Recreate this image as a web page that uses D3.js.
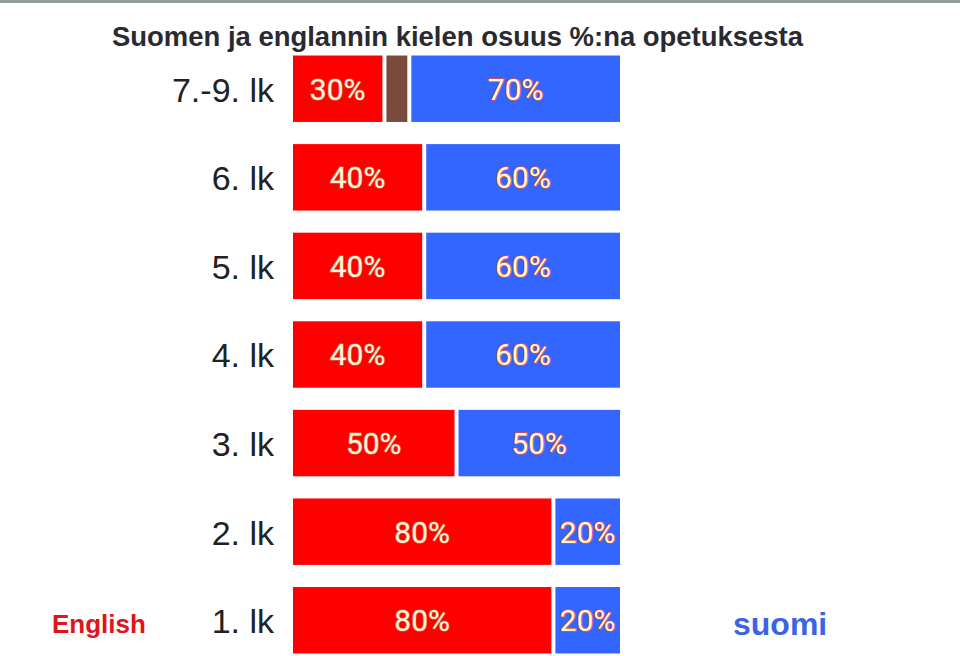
<!DOCTYPE html>
<html>
<head>
<meta charset="utf-8">
<script src="https://cdn.jsdelivr.net/npm/d3@7"></script>
<style>
  body { margin: 0; background: #fff; }
</style>
</head>
<body>
<svg id="chart"></svg>
<script>
// data
const grades = ["7.-9. lk", "6. lk", "5. lk", "4. lk", "3. lk", "2. lk", "1. lk"]
const english = [30, 40, 40, 40, 50, 80, 80]
const other = [7, 0, 0, 0, 0, 0, 0]     // the small brown block in the top row, no label
const finnish = [70, 60, 60, 60, 50, 20, 20]

const width = 960, height = 656
const barLeft = 293, barRight = 620, gap = 4

const colEnglish = "#ff0000", colOther = "#7a4a3c", colFinnish = "#3366ff"

const svg = d3.select("#chart").attr("width", width).attr("height", height)

// grey rule on top
svg.append("rect").attr("x", 0).attr("y", 0).attr("width", width).attr("height", 3).style("fill", "#939d97")

// title
svg.append("text").attr("x", 112).attr("y", 46)
  .text("Suomen ja englannin kielen osuus %:na opetuksesta")
  .style("font-family", "Liberation Sans, Arial, sans-serif").style("font-weight", "bold")
  .style("font-size", "28px").style("fill", "#2a2a30")
  .attr("textLength", 691).attr("lengthAdjust", "spacingAndGlyphs")

const y = d3.scaleBand()
  .domain(grades)
  .range([44, 665])
  .paddingInner(0.25)
  .paddingOuter(0.13)

// build segments per row
const rows = grades.map((g, i) => {
  const parts = [
    {key: "en", value: english[i], color: colEnglish, label: english[i] + "%"},
    {key: "other", value: other[i], color: colOther, label: ""},
    {key: "fi", value: finnish[i], color: colFinnish, label: finnish[i] + "%"}
  ].filter(p => p.value > 0)
  const total = d3.sum(parts, p => p.value)
  const x = d3.scaleLinear().domain([0, total]).range([0, barRight - barLeft - gap * (parts.length - 1)])
  let acc = 0
  parts.forEach((p, j) => {
    p.x0 = barLeft + x(acc) + gap * j
    p.w = x(p.value)
    acc += p.value
  })
  return {grade: g, parts: parts}
})

const rowG = svg.selectAll("g.row")
  .data(rows)
  .join("g")
  .attr("class", "row")
  .attr("transform", d => `translate(0,${y(d.grade)})`)

rowG.selectAll("rect")
  .data(d => d.parts)
  .join("rect")
  .attr("x", d => d.x0)
  .attr("y", 0)
  .attr("width", d => d.w)
  .attr("height", y.bandwidth())
  .style("fill", d => d.color)

rowG.selectAll("text.pct")
  .data(d => d.parts.filter(p => p.label))
  .join("text")
  .attr("class", "pct")
  .attr("x", d => d.x0 + d.w / 2)
  .attr("y", y.bandwidth() / 2 + 11)
  .attr("text-anchor", "middle")
  .text(d => d.label)
  .style("font-family", "Roboto, Noto Sans, sans-serif")
  .style("font-size", "30px")
  .style("fill", "#fff6dc")
  .style("stroke", "#e0502e")
  .style("stroke-width", "1.5px")
  .style("paint-order", "stroke")
  .style("stroke-linejoin", "round")

// row labels
rowG.append("text")
  .attr("x", 274)
  .attr("y", y.bandwidth() / 2 + 13)
  .attr("text-anchor", "end")
  .text(d => d.grade)
  .style("font-family", "Liberation Sans, Arial, sans-serif")
  .style("font-size", "34px")
  .style("fill", "#222")

// language captions
svg.append("text").attr("x", 52).attr("y", 633).text("English")
  .style("font-family", "Liberation Sans, Arial, sans-serif").style("font-weight", "bold")
  .style("font-size", "26px").style("fill", "#e0141c")
svg.append("text").attr("x", 733).attr("y", 635).text("suomi")
  .style("font-family", "Liberation Sans, Arial, sans-serif").style("font-weight", "bold")
  .style("font-size", "32px").style("fill", "#3a63e6")
</script>
</body>
</html>
